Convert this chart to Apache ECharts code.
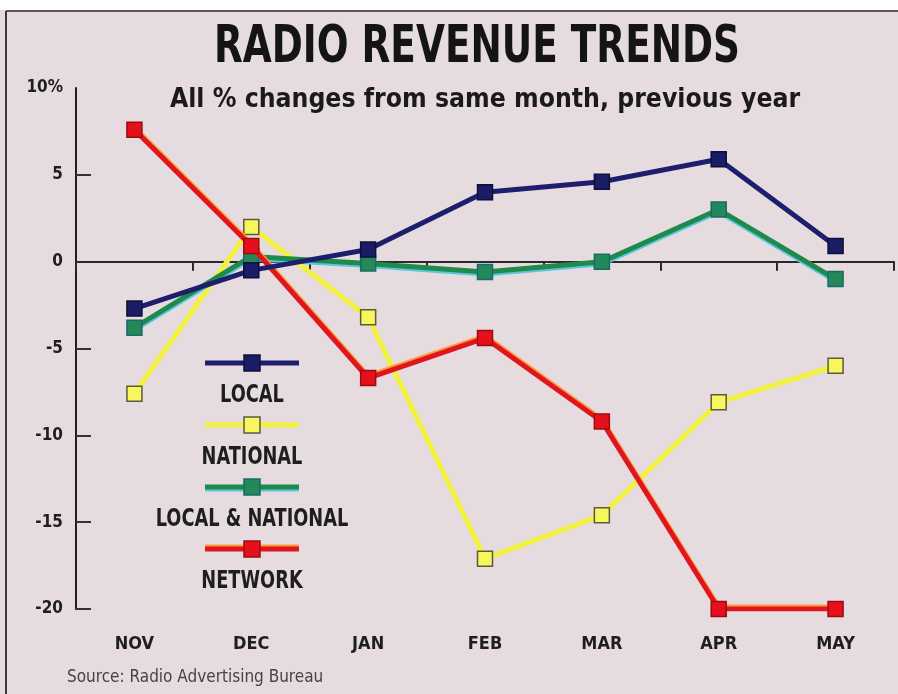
<!DOCTYPE html>
<html>
<head>
<meta charset="utf-8">
<script src="https://cdn.jsdelivr.net/npm/echarts@6/dist/echarts.min.js"></script>
<style>
html,body{margin:0;padding:0;background:#ffffff;}
#chart{width:898px;height:694px;}
</style>
</head>
<body>
<div id="chart"></div>
<script>
// ---- data ----
var months = ['NOV', 'DEC', 'JAN', 'FEB', 'MAR', 'APR', 'MAY'];
var localVals = [-2.7, -0.5, 0.7, 4.0, 4.6, 5.9, 0.9];
var nationalVals = [-7.6, 2.0, -3.2, -17.1, -14.6, -8.1, -6.0];
var localNationalVals = [-3.8, 0.3, -0.1, -0.6, 0.0, 3.0, -1.0];
var networkVals = [7.6, 0.9, -6.7, -4.4, -9.2, -20.0, -20.0];
var seriesNames = ['LOCAL', 'NATIONAL', 'LOCAL & NATIONAL', 'NETWORK'];
var yTicks = [-20, -15, -10, -5, 0, 5, 10];
var titleText = 'RADIO REVENUE TRENDS';
var subtitleText = 'All % changes from same month, previous year';
var sourceText = 'Source: Radio Advertising Bureau';

var NARROW = "'Liberation Sans Narrow', 'DejaVu Sans Condensed', 'Roboto Condensed', sans-serif";

var styles = {
  'LOCAL': {line: '#1d1f6c', fill: '#1a1c66', border: '#0e0f3a', shadow: null},
  'NATIONAL': {line: '#f2f23c', fill: '#f7f65c', border: '#5a5a40', shadow: null},
  'LOCAL & NATIONAL': {line: '#1f8a4a', fill: '#23895a', border: '#1b6a6a', shadow: '#59c6df'},
  'NETWORK': {line: '#e0161e', fill: '#e6101c', border: '#9a0c12', shadow: '#ff9a3a'}
};

function mkSeries(name, vals, z) {
  var s = styles[name];
  var ls = {color: s.line, width: 5};
  if (s.shadow) { ls.shadowColor = s.shadow; ls.shadowOffsetY = (name === 'NETWORK') ? -2 : 2; ls.shadowBlur = 0; }
  return {
    name: name, type: 'line', data: vals, z: z,
    symbol: 'rect', symbolSize: 15, showSymbol: true,
    lineStyle: ls,
    itemStyle: {color: s.fill, borderColor: s.border, borderWidth: 1.5},
    emphasis: {disabled: true},
    animation: false
  };
}

var chart = echarts.init(document.getElementById('chart'), null, {renderer: 'canvas'});

// legend drawn as graphic elements
var legendGraphics = [];
var legendX = 252, legendLineHalf = 47, legendY0 = 363, legendStep = 62;
seriesNames.forEach(function (n, i) {
  var s = styles[n];
  var y = legendY0 + legendStep * i;
  var lineShape = {x1: legendX - legendLineHalf, y1: y, x2: legendX + legendLineHalf, y2: y};
  if (s.shadow) {
    legendGraphics.push({type: 'line', shape: {x1: lineShape.x1, y1: y + (n === 'NETWORK' ? -2 : 2), x2: lineShape.x2, y2: y + (n === 'NETWORK' ? -2 : 2)}, style: {stroke: s.shadow, lineWidth: 5}, z: 10});
  }
  legendGraphics.push({type: 'line', shape: lineShape, style: {stroke: s.line, lineWidth: 5}, z: 11});
  legendGraphics.push({type: 'rect', shape: {x: legendX - 8, y: y - 8, width: 16, height: 16}, style: {fill: s.fill, stroke: s.border, lineWidth: 1.5}, z: 12});
  legendGraphics.push({type: 'text', x: legendX, y: y + 32, scaleX: 0.79, style: {text: n, font: 'bold 25px ' + NARROW, fill: '#1e1e1e', textAlign: 'center', textVerticalAlign: 'middle'}, z: 12});
});

var option = {
  backgroundColor: 'transparent',
  animation: false,
  grid: {left: 76, top: 88, width: 818, height: 521, containLabel: false},
  xAxis: [
    {
      type: 'category', data: months, boundaryGap: true,
      axisLine: {show: true, onZero: true, lineStyle: {color: '#2a2a2a', width: 2}},
      axisTick: {show: true, interval: 0, length: 9, lineStyle: {color: '#2a2a2a', width: 2}},
      axisLabel: {show: false},
      splitLine: {show: false}
    },
    {
      type: 'category', data: months, boundaryGap: true, position: 'bottom',
      axisLine: {show: false, onZero: false},
      axisTick: {show: false},
      axisLabel: {show: true, interval: 0, margin: 26, fontSize: 18, fontWeight: 'bold', fontFamily: NARROW, color: '#1e1e1e'},
      splitLine: {show: false}
    }
  ],
  yAxis: {
    type: 'value', min: -20, max: 10, interval: 5,
    axisLine: {show: true, lineStyle: {color: '#1e1e1e', width: 2}},
    axisTick: {show: true, inside: true, length: 15, customValues: [-20, -15, -10, -5, 5], lineStyle: {color: '#333', width: 2}},
    axisLabel: {show: true, margin: 13, fontSize: 17, fontWeight: 'bold', fontFamily: NARROW, color: '#1e1e1e',
      customValues: yTicks,
      formatter: function (v) { return v === 10 ? '10%' : String(v); }},
    splitLine: {show: false}
  },
  series: [
    mkSeries('NATIONAL', nationalVals, 2),
    mkSeries('LOCAL & NATIONAL', localNationalVals, 3),
    mkSeries('NETWORK', networkVals, 4),
    mkSeries('LOCAL', localVals, 5)
  ],
  graphic: [
    {type: 'rect', shape: {x: 0, y: 10, width: 898, height: 684}, style: {fill: '#e6dcdf'}, z: -10, silent: true},
    {type: 'line', shape: {x1: 6, y1: 11, x2: 898, y2: 11}, style: {stroke: '#5a5a5a', lineWidth: 2}, z: -9},
    {type: 'line', shape: {x1: 6, y1: 11, x2: 6, y2: 694}, style: {stroke: '#3a3a3a', lineWidth: 2}, z: -9},
    {type: 'text', x: 477, y: 48, scaleX: 0.80, style: {text: titleText, font: 'bold 52px ' + NARROW, fill: '#141414', textAlign: 'center', textVerticalAlign: 'middle'}, z: 20},
    {type: 'text', x: 485, y: 100, scaleX: 0.975, style: {text: subtitleText, font: 'bold 27px ' + NARROW, fill: '#1a1a1a', textAlign: 'center', textVerticalAlign: 'middle'}, z: 20},
    {type: 'text', x: 67, y: 678, scaleX: 1.0, style: {text: sourceText, font: '17px ' + NARROW, fill: '#444', textAlign: 'left', textVerticalAlign: 'middle'}, z: 20}
  ].concat(legendGraphics)
};
chart.setOption(option);
</script>
</body>
</html>
